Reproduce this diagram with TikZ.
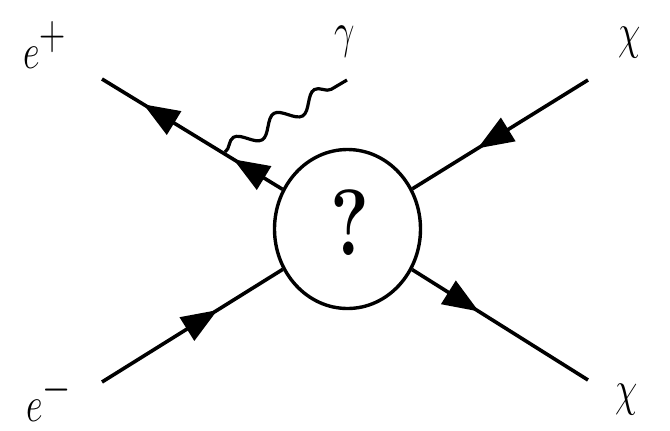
\documentclass[tikz,border=0pt]{standalone}
\usetikzlibrary{arrows.meta,decorations.markings,decorations.pathmorphing,shapes.geometric}
\tikzset{tri/.tip={Triangle[length=18pt,width=13.5pt]}}
\begin{document}
\begin{tikzpicture}[x=0.5pt,y=-0.5pt,
  fline/.style={line width=1.8pt},
  fwdarrow/.style={postaction={decorate},decoration={markings,mark=at position #1 with {\arrow{tri}}}},
  bwdarrows/.style 2 args={postaction={decorate},decoration={markings,
      mark=at position #1 with {\arrowreversed{tri}},
      mark=at position #2 with {\arrowreversed{tri}}}},
  photon/.style={line width=1.6pt,decorate,decoration={snake,segment length=23.5pt,amplitude=4.2pt}},
  lbl/.style={inner sep=0pt,font=\fontsize{37}{44}\selectfont},
  blobstyle/.style={ellipse,draw,line width=1.7pt,minimum width=73pt,minimum height=79.5pt,inner sep=0pt}]
\useasboundingbox (0,0) rectangle (670,430);
% blob
\node[blobstyle] (blob) at (347.5,229) {};
\node[inner sep=0pt,font=\fontsize{47}{56}\selectfont\bfseries] (q) at (350,223) {\scalebox{0.78}[1]{?}};
% external ends
\coordinate (ep) at (102,79);
\coordinate (em) at (102,382);
\coordinate (ct) at (588,80);
\coordinate (cb) at (588,380);
\coordinate (v) at (225,152);
\coordinate (gend) at (347,80);
% fermion lines
\draw[fline,bwdarrows={0.23}{0.73}] (ep) -- (blob);
\draw[fline,fwdarrow=0.64] (em) -- (blob);
\draw[fline,fwdarrow=0.63] (ct) -- (blob);
\draw[fline,fwdarrow=0.38] (blob) -- (cb);
% photon
\draw[photon] (v) -- (gend);
% labels
\node[lbl,anchor=base west] (lep) at (23,68) {\scalebox{0.73}[1]{$e^+$}};
\node[lbl,anchor=base west] (lem) at (26,421) {\scalebox{0.73}[1]{$e^-$}};
\node[lbl] (lg) at (345,42) {\scalebox{0.73}[1]{$\gamma$}};
\node[lbl] (lct) at (630,43) {\scalebox{0.73}[1]{$\chi$}};
\node[lbl] (lcb) at (627,400) {\scalebox{0.73}[1]{$\chi$}};
\end{tikzpicture}
\end{document}
